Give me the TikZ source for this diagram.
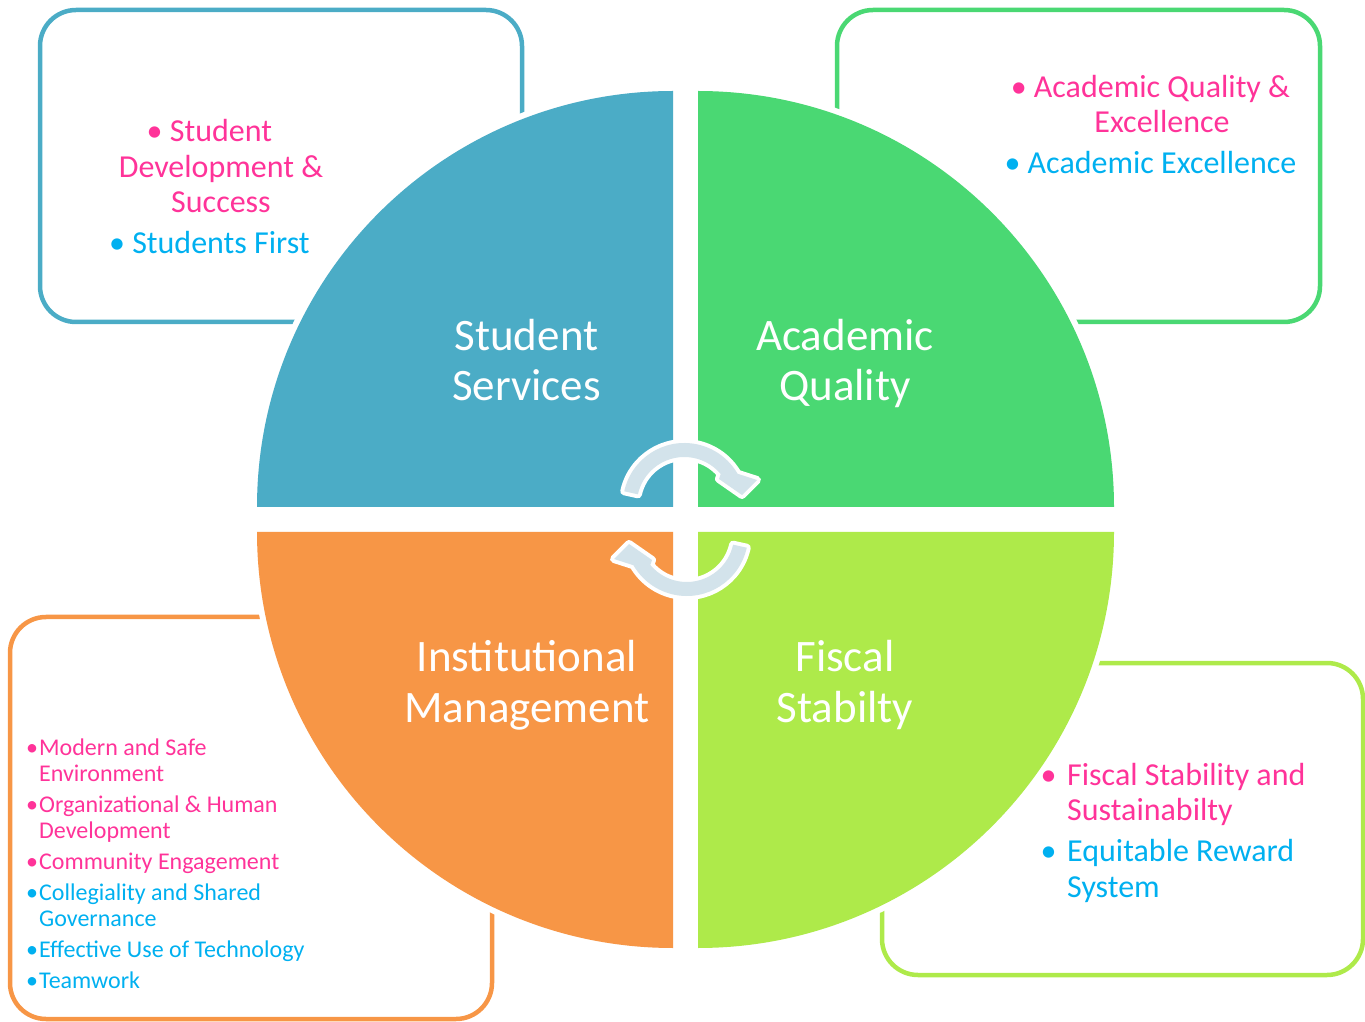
\documentclass[tikz,border=0pt]{standalone}
\usepackage{fontspec}
\setmainfont{Carlito}
\definecolor{ssblue}{HTML}{4BACC6}
\definecolor{aqgreen}{HTML}{4AD873}
\definecolor{imorange}{HTML}{F79646}
\definecolor{fslime}{HTML}{AEEA4A}
\definecolor{pinktxt}{HTML}{FF3399}
\definecolor{cyantxt}{HTML}{00B0F0}
\definecolor{cyclefill}{HTML}{D3E3EB}
\begin{document}
\begin{tikzpicture}[x=1pt,y=1pt,
  frame/.style={line width=4.5pt,rounded corners=36pt},
  halo/.style={draw=white,line width=12pt},
  qlabel/.style={text=white,font=\fontsize{45}{50}\selectfont,align=center,inner sep=0pt,anchor=base},
  bigitems/.style={font=\fontsize{32}{35.5}\selectfont,inner sep=0pt},
  smallitems/.style={font=\fontsize{24}{26}\selectfont,inner sep=0pt,align=left,anchor=base west}]
\useasboundingbox (0,0) rectangle (1365,1021);
% frames behind the circle
\draw[frame,draw=ssblue] (40,699) rectangle (522,1011);
\draw[frame,draw=aqgreen] (837,699) rectangle (1320,1011);
\draw[frame,draw=imorange] (10,2) rectangle (492,404);
\draw[frame,draw=fslime] (882,46) rectangle (1363,358);
% four quarters
\foreach \col/\cx/\cy/\a in {ssblue/673/514/180, aqgreen/698/514/90, fslime/698/489/0, imorange/673/489/270}{
  \draw[halo] (\cx,\cy) -- ++(\a:416) arc[start angle=\a, end angle=\a-90, radius=416] -- cycle;
  \fill[\col] (\cx,\cy) -- ++(\a:416) arc[start angle=\a, end angle=\a-90, radius=416] -- cycle;
}
% the two turning arrows
\foreach \ax/\ay/\rot in {684.3/516.5/0, 686.7/486.5/180}{
  \begin{scope}[shift={(\ax,\ay)},rotate=\rot]
    \draw[white,line width=8pt,line join=round] (167.6:61.5) arc[start angle=167.6, end angle=30, radius=61.5]
      -- (72.7,24.5) -- (57.7,9.5) -- (34.7,25.5) -- (40:47.5) arc[start angle=40, end angle=167.6, radius=47.5] -- cycle;
    \fill[cyclefill] (167.6:61.5) arc[start angle=167.6, end angle=30, radius=61.5]
      -- (72.7,24.5) -- (57.7,9.5) -- (34.7,25.5) -- (40:47.5) arc[start angle=40, end angle=167.6, radius=47.5] -- cycle;
  \end{scope}
}
% quarter titles (anchored on the last line)
\node[qlabel] (ss) at (526.5,620) {Student\\Services};
\node[qlabel] (aq) at (845,620) {Academic\\Quality};
\node[qlabel] (im) at (527,299) {Institutional\\Management};
\node[qlabel] (fs) at (845,299) {Fiscal\\Stabilty};
% box texts
\node[bigitems,align=center,anchor=base] (ssgoals) at (221,767)
  {\textcolor{pinktxt}{\llap{\textbullet\ }Student}\\
   \textcolor{pinktxt}{Development \&}\\
   \textcolor{pinktxt}{Success}\\[5.5pt]
   \textcolor{cyantxt}{\llap{\textbullet\ }Students First}};
\node[bigitems,align=center,anchor=base] (aqgoals) at (1162,847)
  {\textcolor{pinktxt}{\llap{\textbullet\ }Academic Quality \&}\\
   \textcolor{pinktxt}{Excellence}\\[5.5pt]
   \textcolor{cyantxt}{\llap{\textbullet\ }Academic Excellence}};
\node[bigitems,align=left,anchor=base west] (fsgoals) at (1067,124)
  {\textcolor{pinktxt}{\llap{\textbullet\hspace{0.33em}}Fiscal Stability and}\\
   \textcolor{pinktxt}{Sustainabilty}\\[5.5pt]
   \textcolor{cyantxt}{\llap{\textbullet\hspace{0.33em}}Equitable Reward}\\
   \textcolor{cyantxt}{System}};
\node[smallitems] (imgoals) at (39,33)
  {\textcolor{pinktxt}{\llap{\textbullet\kern1pt}Modern and Safe}\\
   \textcolor{pinktxt}{Environment}\\[5pt]
   \textcolor{pinktxt}{\llap{\textbullet\kern1pt}Organizational \& Human}\\
   \textcolor{pinktxt}{Development}\\[5pt]
   \textcolor{pinktxt}{\llap{\textbullet\kern1pt}Community Engagement}\\[5pt]
   \textcolor{cyantxt}{\llap{\textbullet\kern1pt}Collegiality and Shared}\\
   \textcolor{cyantxt}{Governance}\\[5pt]
   \textcolor{cyantxt}{\llap{\textbullet\kern1pt}Effective Use of Technology}\\[5pt]
   \textcolor{cyantxt}{\llap{\textbullet\kern1pt}Teamwork}};
\end{tikzpicture}
\end{document}
